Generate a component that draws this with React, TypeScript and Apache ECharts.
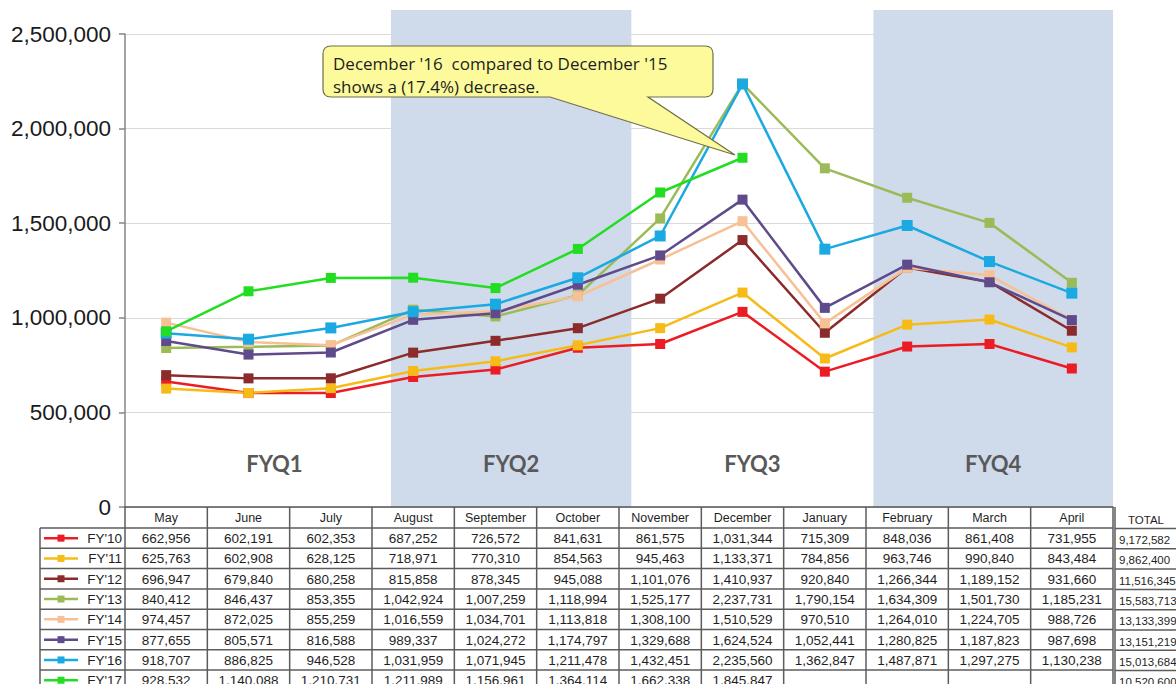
import React, { useEffect, useRef } from "react";
import * as echarts from "echarts";

// Monthly volumes by fiscal year (May through April)
const months = [
  "May", "June", "July", "August", "September", "October",
  "November", "December", "January", "February", "March", "April",
];

const fyNames = ["FY'10", "FY'11", "FY'12", "FY'13", "FY'14", "FY'15", "FY'16", "FY'17"];

const fy10 = [662956, 602191, 602353, 687252, 726572, 841631, 861575, 1031344, 715309, 848036, 861408, 731955];
const fy11 = [625763, 602908, 628125, 718971, 770310, 854563, 945463, 1133371, 784856, 963746, 990840, 843484];
const fy12 = [696947, 679840, 680258, 815858, 878345, 945088, 1101076, 1410937, 920840, 1266344, 1189152, 931660];
const fy13 = [840412, 846437, 853355, 1042924, 1007259, 1118994, 1525177, 2237731, 1790154, 1634309, 1501730, 1185231];
const fy14 = [974457, 872025, 855259, 1016559, 1034701, 1113818, 1308100, 1510529, 970510, 1264010, 1224705, 988726];
const fy15 = [877655, 805571, 816588, 989337, 1024272, 1174797, 1329688, 1624524, 1052441, 1280825, 1187823, 987698];
const fy16 = [918707, 886825, 946528, 1031959, 1071945, 1211478, 1432451, 2235560, 1362847, 1487871, 1297275, 1130238];
const fy17 = [928532, 1140088, 1210731, 1211989, 1156961, 1364114, 1662338, 1845847, null, null, null, null];

const fySeries: (number | null)[][] = [fy10, fy11, fy12, fy13, fy14, fy15, fy16, fy17];

const quarterNames = ["FYQ1", "FYQ2", "FYQ3", "FYQ4"];
const yTicks = [0, 500000, 1000000, 1500000, 2000000, 2500000];

const calloutLines = [
  "December '16  compared to December '15",
  "shows a (17.4%) decrease.",
];

// Styling
const lineColors = ["#ec1c24", "#f7bb18", "#8c2b2b", "#9bbb59", "#f8c095", "#5f4a8b", "#1ba9e1", "#22dd22"];
const symbolSizes = [10, 10, 10, 10, 10, 10, 11, 10];
const shadeColor = "#cfdbeb";

// Layout
const W = 1176;
const H = 684;
const plotLeft = 125;
const plotRight = 1113;
const plotTop = 34;
const plotBottom = 507;
const shadeTop = 10;
const cellW = (plotRight - plotLeft) / months.length;
const headerBottom = 528;
const rowH = 20.3;
const legendLeft = 40;
const totalLeft = 1115;
// quarter bands, in category units along the plot width
const quarterBounds = [[0.4, 3.23], [3.23, 6.15], [6.15, 9.09], [9.09, 12]];
const quarterShaded = [false, true, false, true];

const tableFont = "Liberation Sans, Arial, sans-serif";
const fmt = (v: number) => v.toLocaleString("en-US");

function textEl(text: string, x: number, y: number, size: number, align: string, extra: any = {}) {
  return {
    type: "text",
    x,
    y,
    silent: true,
    z: 10,
    style: {
      text,
      fill: "#1f1f1f",
      fontSize: size,
      fontFamily: tableFont,
      align,
      textAlign: align,
      verticalAlign: "middle",
      textVerticalAlign: "middle",
      ...extra,
    },
  };
}

function lineEl(x1: number, y1: number, x2: number, y2: number, color = "#5c5c5c", width = 1.5) {
  return {
    type: "line",
    silent: true,
    z: 10,
    shape: { x1, y1, x2, y2 },
    style: { stroke: color, lineWidth: width },
  };
}

function buildTable() {
  const els: any[] = [];
  const rowCount = fySeries.length;
  const tableBottom = headerBottom + rowH * (rowCount + 0.5);

  // horizontal rules
  for (let r = 0; r <= rowCount; r++) {
    const y = headerBottom + r * rowH;
    els.push(lineEl(legendLeft, y, plotRight, y));
    els.push(lineEl(totalLeft, y + 0.5, W + 10, y + 0.5));
  }
  // vertical rules
  for (let c = 0; c <= months.length; c++) {
    const x = plotLeft + c * cellW;
    els.push(lineEl(x, plotBottom, x, tableBottom));
  }
  els.push(lineEl(legendLeft, headerBottom, legendLeft, tableBottom));
  els.push(lineEl(totalLeft, plotBottom, totalLeft, tableBottom));

  // month headers
  months.forEach((m, c) => {
    els.push(textEl(m, plotLeft + (c + 0.5) * cellW, (plotBottom + headerBottom) / 2 + 0.5, 12.5, "center"));
  });
  els.push(textEl("TOTAL", totalLeft + 31, (plotBottom + headerBottom) / 2 + 2, 11.5, "center"));

  // body rows
  fySeries.forEach((vals, r) => {
    const cy = headerBottom + (r + 0.5) * rowH;
    const color = lineColors[r];
    els.push(lineEl(44, cy, 78, cy, color, 2.5));
    els.push({
      type: "rect",
      silent: true,
      z: 11,
      shape: { x: 57.5, y: cy - 3.5, width: 7, height: 7 },
      style: { fill: color },
    });
    els.push(textEl(fyNames[r], 122, cy + 0.5, 13.5, "right"));
    vals.forEach((v, c) => {
      if (v == null) return;
      els.push(textEl(fmt(v), plotLeft + (c + 0.5) * cellW, cy + 0.5, 13.5, "center"));
    });
    const total = vals.reduce((s: number, v) => s + (v ?? 0), 0);
    els.push(textEl(fmt(total), totalLeft + 4, cy + 2, 11.5, "left"));
  });
  return els;
}

// speech-bubble outline for the December note
const calloutPath =
  "M331,46 H705 Q713,46 713,54 V89 Q713,97 705,97 H648 L735,155 L550,97 H331 Q323,97 323,89 V54 Q323,46 331,46 Z";
echarts.graphic.registerShape("callout", echarts.graphic.extendPath(calloutPath, {}));

export default function App() {
  const ref = useRef<HTMLDivElement>(null);

  useEffect(() => {
    if (!ref.current) return;
    const chart = echarts.init(ref.current, null, { renderer: "svg" });

    const lineSeries = fySeries.map((data, i) => ({
      name: fyNames[i],
      type: "line",
      xAxisIndex: 0,
      yAxisIndex: 0,
      data,
      z: 3,
      symbol: "rect",
      symbolSize: symbolSizes[i],
      showSymbol: true,
      connectNulls: false,
      lineStyle: { color: lineColors[i], width: 2.5 },
      itemStyle: { color: lineColors[i] },
      emphasis: { disabled: true },
    }));

    const quarterAreas = quarterNames.map((name, i) => [
      {
        name,
        xAxis: quarterBounds[i][0],
        yAxis: 0,
        itemStyle: { color: quarterShaded[i] ? shadeColor : "rgba(0,0,0,0)" },
        label: {
          show: true,
          formatter: name,
          position: "insideBottom",
          distance: 33,
          color: "#595959",
          fontSize: 22,
          fontWeight: "bold",
          fontFamily: "Lato, 'Open Sans', sans-serif",
        },
      },
      { xAxis: quarterBounds[i][1], yAxis: 1 },
    ]);

    chart.setOption({
      animation: false,
      backgroundColor: "#ffffff",
      grid: [
        { left: plotLeft, right: W - plotRight, top: plotTop, bottom: H - plotBottom },
        { left: plotLeft, right: W - plotRight, top: shadeTop, bottom: H - plotBottom },
      ],
      xAxis: [
        {
          type: "category",
          gridIndex: 0,
          data: months,
          boundaryGap: true,
          axisLabel: { show: false },
          axisTick: { show: false },
          axisLine: { lineStyle: { color: "#555555", width: 1.5 } },
          z: 4,
        },
        { type: "value", gridIndex: 1, min: 0, max: months.length, show: false },
      ],
      yAxis: [
        {
          type: "value",
          gridIndex: 0,
          min: yTicks[0],
          max: yTicks[yTicks.length - 1],
          interval: yTicks[1] - yTicks[0],
          z: 1,
          axisLine: { show: true, lineStyle: { color: "#868686", width: 1.5 } },
          axisTick: { show: true, length: 6, lineStyle: { color: "#868686", width: 1.5 } },
          axisLabel: {
            color: "#1a1a1a",
            fontSize: 22.5,
            fontFamily: tableFont,
            margin: 14,
            formatter: (v: number) => fmt(v),
          },
          splitLine: { show: true, lineStyle: { color: "#dadada", width: 1.2 } },
        },
        { type: "value", gridIndex: 1, min: 0, max: 1, show: false },
      ],
      series: [
        {
          name: "quarters",
          type: "line",
          xAxisIndex: 1,
          yAxisIndex: 1,
          z: 0,
          data: [[0, 0]],
          symbol: "none",
          lineStyle: { opacity: 0 },
          silent: true,
          markArea: { silent: true, data: quarterAreas },
        },
        ...lineSeries,
      ],
      graphic: [
        {
          type: "callout",
          x: 0,
          y: 0,
          z: 20,
          silent: true,
          style: { fill: "#fdfa9c", stroke: "#6f6f4a", lineWidth: 1.2 },
        },
        ...calloutLines.map((t, i) =>
          textEl(t, 333, 63 + i * 23, 17, "left", {
            fontFamily: "'Open Sans', 'Noto Sans', sans-serif",
            fill: "#1e1e1e",
          })
        ).map((e) => ({ ...e, z: 21 })),
        ...buildTable(),
      ],
    });

    return () => chart.dispose();
  }, []);

  return (
    <div
      ref={ref}
      style={{ position: "absolute", left: 0, top: 0, width: W, height: H, background: "#fff" }}
    />
  );
}
